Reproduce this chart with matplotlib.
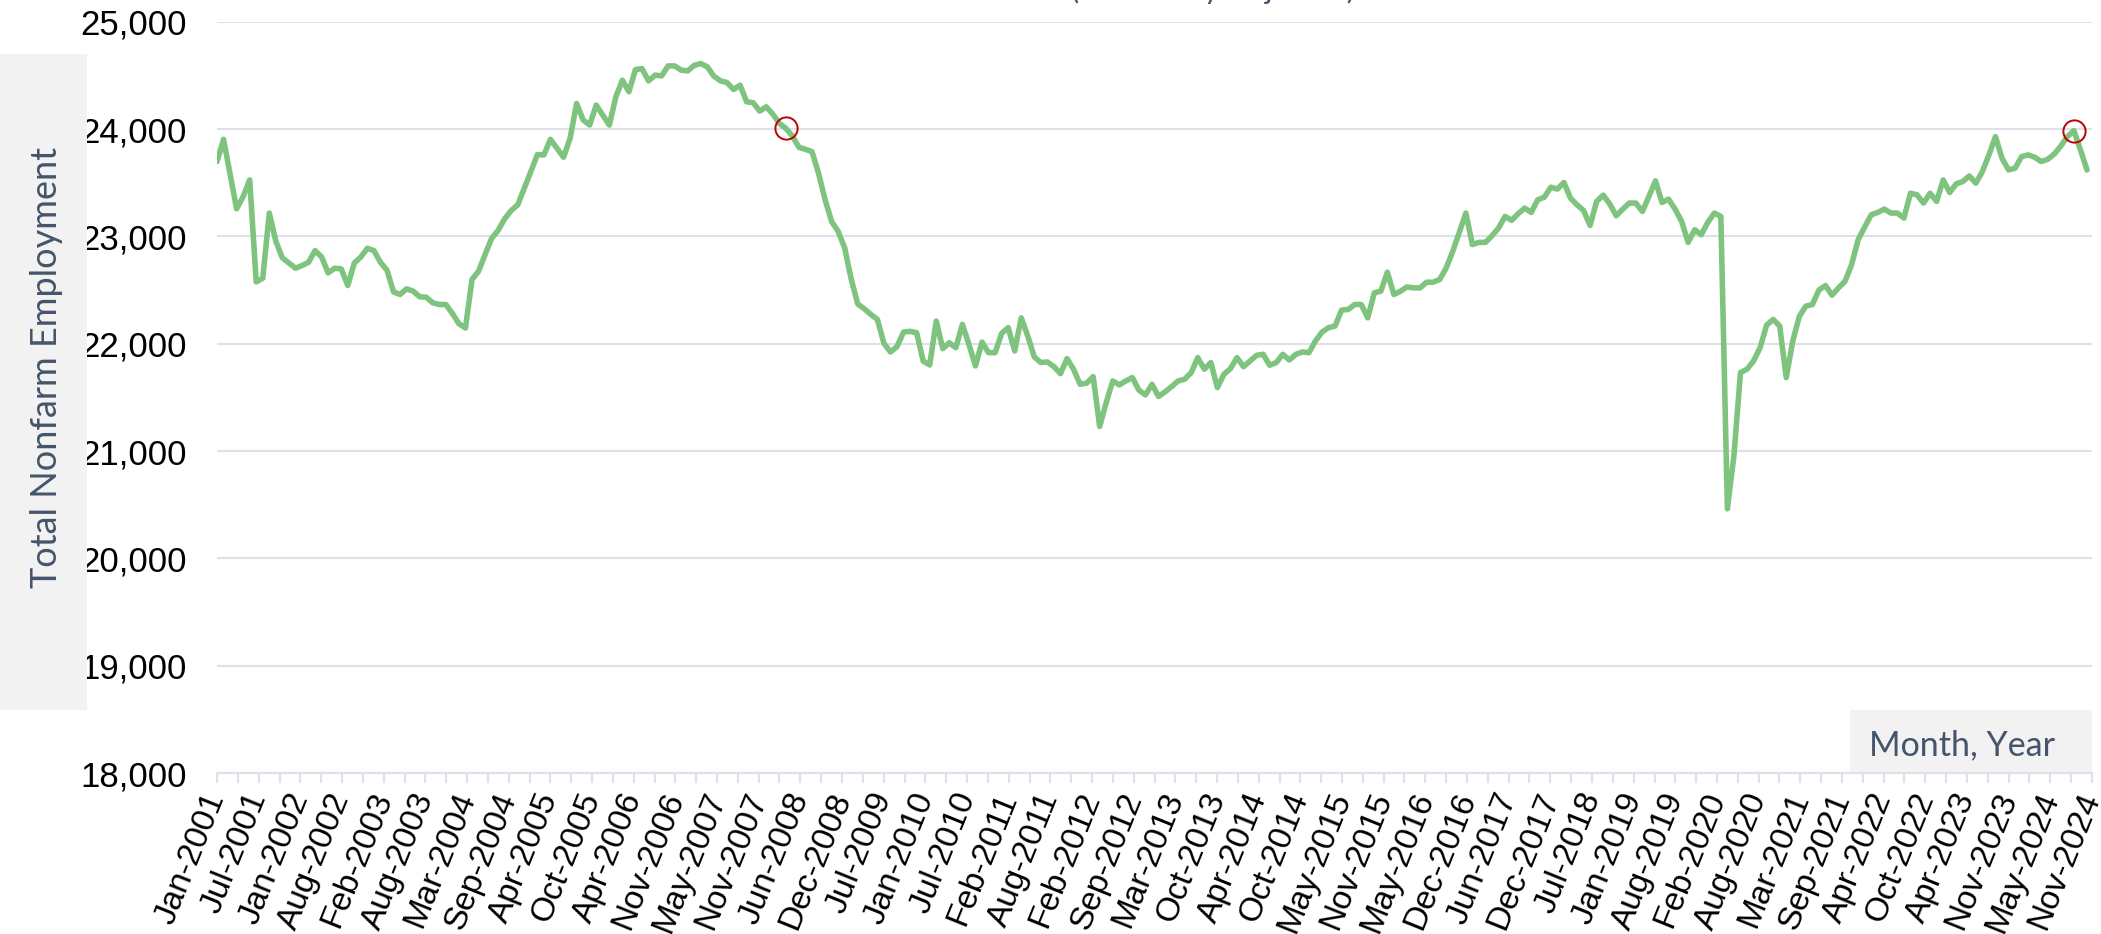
import matplotlib
matplotlib.use("Agg")
import matplotlib.pyplot as plt
from matplotlib.patches import Rectangle
from matplotlib.ticker import FuncFormatter
import numpy as np

# ---------------- data ----------------
start_year = 2001
start_month = 1
employment = [
    23697, 23904, 23580, 23257, 23370, 23526, 22576, 22610, 23217, 22954,
    22799, 22752, 22703, 22728, 22758, 22867, 22808, 22660, 22703, 22697,
    22542, 22752, 22808, 22889, 22867, 22758, 22684, 22483, 22458, 22511,
    22489, 22437, 22433, 22381, 22365, 22365, 22282, 22186, 22146, 22598,
    22675, 22830, 22981, 23056, 23164, 23241, 23294, 23449, 23604, 23762,
    23759, 23904, 23820, 23737, 23913, 24238, 24084, 24037, 24223, 24130,
    24037, 24300, 24455, 24347, 24554, 24563, 24449, 24502, 24495, 24588,
    24588, 24548, 24542, 24594, 24610, 24579, 24492, 24449, 24433, 24368,
    24409, 24254, 24245, 24167, 24207, 24139, 24053, 24006, 23935, 23830,
    23811, 23789, 23588, 23341, 23139, 23046, 22892, 22600, 22370, 22325,
    22272, 22226, 22003, 21923, 21972, 22108, 22115, 22102, 21839, 21802,
    22211, 21954, 22009, 21963, 22180, 21994, 21793, 22015, 21916, 21916,
    22096, 22149, 21932, 22241, 22071, 21876, 21824, 21830, 21786, 21721,
    21861, 21762, 21622, 21632, 21693, 21229, 21452, 21653, 21616, 21653,
    21684, 21567, 21523, 21622, 21508, 21551, 21600, 21653, 21669, 21731,
    21870, 21762, 21824, 21591, 21715, 21768, 21870, 21786, 21839, 21892,
    21901, 21799, 21824, 21901, 21848, 21901, 21923, 21916, 22025, 22108,
    22149, 22164, 22313, 22319, 22365, 22365, 22241, 22474, 22489, 22666,
    22458, 22489, 22529, 22520, 22520, 22573, 22573, 22598, 22706, 22861,
    23037, 23217, 22923, 22944, 22944, 23005, 23077, 23186, 23149, 23211,
    23263, 23223, 23341, 23365, 23458, 23440, 23502, 23356, 23294, 23241,
    23102, 23325, 23384, 23303, 23192, 23254, 23310, 23310, 23232, 23372,
    23517, 23316, 23347, 23254, 23139, 22944, 23062, 23015, 23130, 23217,
    23186, 20461, 20957, 21731, 21762, 21839, 21963, 22173, 22226, 22164,
    21684, 22025, 22254, 22350, 22365, 22500, 22542, 22452, 22520, 22582,
    22737, 22969, 23087, 23201, 23223, 23254, 23217, 23217, 23170, 23402,
    23387, 23310, 23402, 23325, 23526, 23409, 23489, 23511, 23563, 23495,
    23604, 23759, 23929, 23728, 23619, 23635, 23743, 23759, 23737, 23697,
    23718, 23768, 23842, 23929, 23985, 23805, 23619,
]
highlight_idx = [87, 284]

tick_labels = [
    "Jan-2001", "Jul-2001", "Jan-2002", "Aug-2002", "Feb-2003", "Aug-2003",
    "Mar-2004", "Sep-2004", "Apr-2005", "Oct-2005", "Apr-2006", "Nov-2006",
    "May-2007", "Nov-2007", "Jun-2008", "Dec-2008", "Jul-2009", "Jan-2010",
    "Jul-2010", "Feb-2011", "Aug-2011", "Feb-2012", "Sep-2012", "Mar-2013",
    "Oct-2013", "Apr-2014", "Oct-2014", "May-2015", "Nov-2015", "May-2016",
    "Dec-2016", "Jun-2017", "Dec-2017", "Jul-2018", "Jan-2019", "Aug-2019",
    "Feb-2020", "Aug-2020", "Mar-2021", "Sep-2021", "Apr-2022", "Oct-2022",
    "Apr-2023", "Nov-2023", "May-2024", "Nov-2024",
]
y_ticks = [18000, 19000, 20000, 21000, 22000, 23000, 24000, 25000]

y_title = "Total Nonfarm Employment"
x_title = "Month, Year"
chart_subtitle = "(Seasonally Adjusted)"

# ---------------- styling ----------------
W, H = 2101, 934
LINE_C = "#7ec47e"
GRID_C = "#dde1ec"
TEXT_C = "#44546a"
BOX_C = "#f2f2f2"
TICK_FONT = "Liberation Sans"
TITLE_FONT = ["Lato", "DejaVu Sans"]

fig = plt.figure(figsize=(W / 100, H / 100), dpi=100)
fig.patch.set_facecolor("white")

ax_left, ax_right = 217, 2092
ax_top, ax_bottom = 21.7, 773
ax = fig.add_axes([ax_left / W, 1 - ax_bottom / H,
                   (ax_right - ax_left) / W, (ax_bottom - ax_top) / H])

n = len(employment)
x = np.arange(n)
ax.plot(x, employment, color=LINE_C, lw=4.0, solid_joinstyle="round",
        solid_capstyle="round", zorder=3)
hx = [x[i] for i in highlight_idx]
hy = [employment[i] for i in highlight_idx]
ax.plot(hx, hy, ls="none", marker="o", ms=16, mfc="none", mec="#c00000",
        mew=1.4, zorder=4)

xmax = (n - 1) + 5 / ((2087 - 217) / (n - 1))
ax.set_xlim(0, xmax)
ax.set_ylim(18000, 25000)

ax.set_yticks(y_ticks)
ax.yaxis.set_major_formatter(FuncFormatter(lambda v, p: f"{int(v):,}"))
ax.grid(axis="y", color=GRID_C, lw=1.5, zorder=0)
ax.tick_params(axis="y", length=0, pad=22, labelsize=25)
for lab in ax.get_yticklabels():
    lab.set_fontfamily(TICK_FONT)

major_pos = np.linspace(0, xmax, len(tick_labels))
minor_pos = np.linspace(0, xmax, 2 * len(tick_labels) - 1)
ax.set_xticks(major_pos)
ax.set_xticks(minor_pos, minor=True)
ax.set_xticklabels(tick_labels, rotation=68, ha="right", va="center",
                   rotation_mode="anchor", fontsize=24, fontfamily=TICK_FONT)
ax.tick_params(axis="x", which="both", length=7, width=1.5, color=GRID_C,
               direction="out", pad=8)

for s in ["top", "right", "left"]:
    ax.spines[s].set_visible(False)
ax.spines["bottom"].set_color(GRID_C)
ax.spines["bottom"].set_linewidth(1.5)
ax.set_facecolor("white")

# y-axis title box
fig.patches.append(Rectangle((0, 1 - 710 / H), 87 / W, (710 - 54) / H,
                             transform=fig.transFigure, facecolor=BOX_C,
                             edgecolor="none", zorder=0))
fig.text(47 / W, 1 - 368 / H, y_title, rotation=90, ha="center", va="center",
         fontsize=26, color=TEXT_C, family=TITLE_FONT)

# x-axis title box
fig.patches.append(Rectangle((1850 / W, 1 - 772 / H), (2092 - 1850) / W, (772 - 710) / H,
                             transform=fig.transFigure, facecolor=BOX_C,
                             edgecolor="none", zorder=0))
fig.text(1962 / W, 1 - 745 / H, x_title, ha="center", va="center",
         fontsize=24.5, color=TEXT_C, family=TITLE_FONT)

# subtitle cut off at the top edge
fig.text(1213 / W, 1.0 + 1 / H, chart_subtitle, ha="center", va="baseline",
         fontsize=22, color=TEXT_C, family=TITLE_FONT)

fig.savefig("out.png", dpi=100)
